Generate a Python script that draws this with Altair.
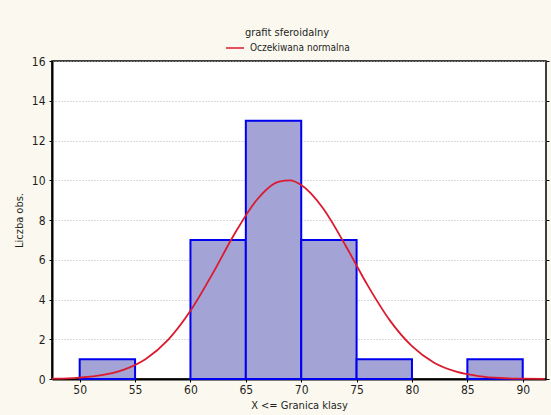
import altair as alt
import pandas as pd

# histogram bins (class boundaries) and counts
bin_start = [50, 55, 60, 65, 70, 75, 80, 85]
bin_end = [55, 60, 65, 70, 75, 80, 85, 90]
counts = [1, 0, 7, 13, 7, 1, 0, 1]

# expected normal curve
curve_x = [47.5, 48, 50, 52, 54, 56, 58, 60, 62, 64, 66, 68, 69, 70, 72, 74, 76,
           78, 80, 82, 84, 86, 88, 90, 92]
curve_y = [0.02, 0.02, 0.07, 0.19, 0.47, 1.02, 1.98, 3.43, 5.30, 7.32, 9.02, 9.93,
           9.99, 9.76, 8.57, 6.72, 4.71, 2.95, 1.65, 0.82, 0.37, 0.15, 0.05, 0.02, 0.01]

x_ticks = [50, 55, 60, 65, 70, 75, 80, 85, 90]
y_ticks = [0, 2, 4, 6, 8, 10, 12, 14, 16]

series_name = "Oczekiwana normalna"
FONT = "'DejaVu Sans Condensed', 'Liberation Sans', sans-serif"
TXT = "#1e1e1e"

bars_df = pd.DataFrame({"lo": bin_start, "hi": bin_end, "n": counts})
bars_df = bars_df[bars_df["n"] > 0].copy()
bars_df["base"] = 0
curve_df = pd.DataFrame({"x": curve_x, "y": curve_y, "s": [series_name] * len(curve_x)})
axis_df = pd.DataFrame({"v": y_ticks, "xv": [50] * len(y_ticks)})

xs = alt.Scale(domain=[47.5, 92.1], nice=False, zero=False)
ys = alt.Scale(domain=[0, 16], nice=False)

bars = alt.Chart(bars_df).mark_rect(
    fill="#a3a3d6", stroke="#0000f0", strokeWidth=2
).encode(
    x=alt.X("lo:Q", scale=xs, axis=alt.Axis(
        values=x_ticks, title="X <= Granica klasy", grid=False, tickSize=3,
        labelPadding=2, titlePadding=4, tickColor="black", domainColor="black",
        domainWidth=2)),
    x2="hi:Q",
    y=alt.Y("n:Q", scale=ys, axis=alt.Axis(
        values=y_ticks, title="Liczba obs.", grid=True, gridDash=[1, 2],
        gridColor="#b4b4b4", tickSize=3, labelPadding=4, titlePadding=7,
        tickColor="black", domainColor="black", domainWidth=2)),
    y2="base:Q",
)

curve = alt.Chart(curve_df).mark_line(
    strokeWidth=1.8, interpolate="monotone"
).encode(
    x=alt.X("x:Q", scale=xs, axis=None),
    y=alt.Y("y:Q", scale=ys, axis=None),
    color=alt.Color("s:N", scale=alt.Scale(range=["#dc1a2e"]), legend=alt.Legend(
        title=None, orient="none", legendX=173, legendY=-23, symbolType="stroke",
        symbolSize=324, symbolStrokeWidth=1.5, labelFontSize=10, labelFont=FONT,
        labelColor=TXT, labelOffset=5, padding=0)),
)

right_axis = alt.Chart(axis_df).mark_point(opacity=0).encode(
    x=alt.X("xv:Q", scale=xs, axis=None),
    y=alt.Y("v:Q", scale=ys, axis=alt.Axis(
        orient="right", values=y_ticks, labels=False, title=None, grid=False,
        tickSize=3, tickColor="black", domain=False)),
)

chart = alt.layer(bars, curve, right_axis).resolve_axis(
    x="independent", y="independent"
).properties(
    width=494,
    height=318,
    padding={"left": 52, "top": 61, "right": 5, "bottom": 36},
    autosize=alt.AutoSizeParams(type="none"),
    background="#fbf9ef",
    title=alt.TitleParams(
        "grafit sferoidalny", fontSize=11, font=FONT, fontWeight="normal",
        color=TXT, anchor="middle", dx=-12, dy=13, offset=4, baseline="alphabetic"),
).configure_view(
    fill="white", stroke="black", strokeWidth=1.5
).configure_axis(
    labelFont=FONT, titleFont=FONT, labelFontSize=12, titleFontSize=11,
    labelColor=TXT, titleColor=TXT, titleFontWeight="normal"
)

chart.save("out.html", embed_options={"renderer": "svg", "actions": False})
